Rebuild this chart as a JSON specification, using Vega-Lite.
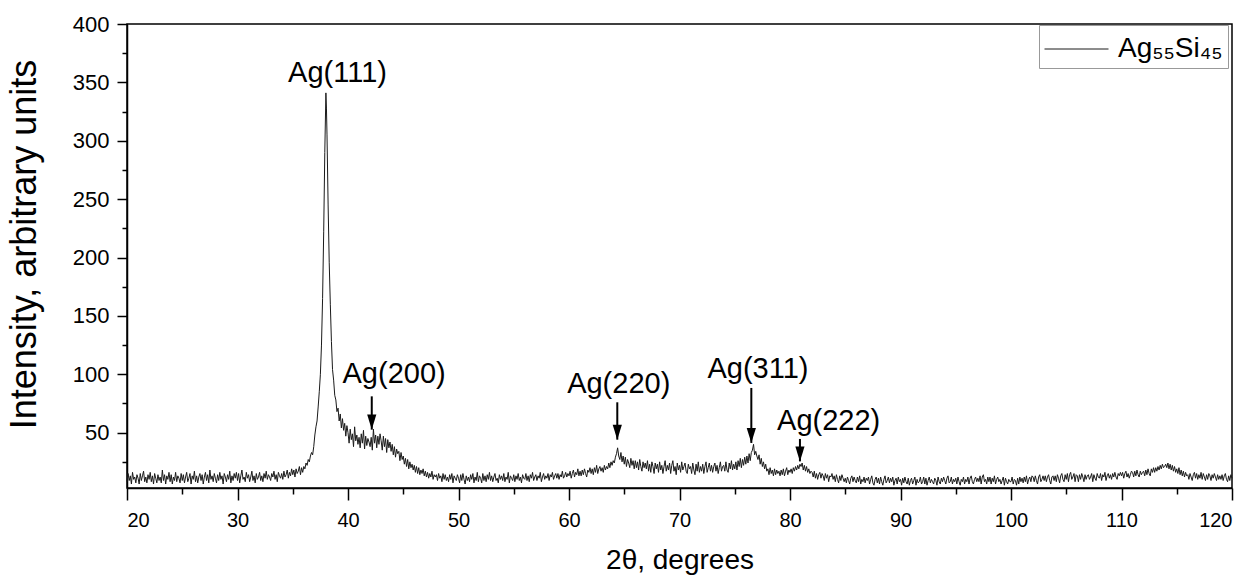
{
  "$schema": "https://vega.github.io/schema/vega-lite/v6.json",
  "autosize": {"type": "none"},
  "padding": {"left": 127, "top": 24, "right": 22, "bottom": 88},
  "width": 1105,
  "height": 464,
  "background": "white",
  "config": {
    "font": "Liberation Sans",
    "view": {"stroke": "black", "strokeWidth": 1.5},
    "axis": {"grid": false, "domainColor": "black", "domainWidth": 1.5, "tickColor": "black", "tickWidth": 1.5, "labelColor": "black", "titleColor": "black", "titleFontWeight": "normal", "labelOverlap": false}
  },
  "datasets": {
    "xrd": [
{"t":20.0,"i":8},{"t":20.1,"i":15},{"t":20.2,"i":9},{"t":20.3,"i":13},{"t":20.4,"i":6},{"t":20.5,"i":16},{"t":20.6,"i":10},{"t":20.7,"i":12},{"t":20.8,"i":7},{"t":20.9,"i":14},
{"t":21.0,"i":11},{"t":21.1,"i":6},{"t":21.2,"i":15},{"t":21.3,"i":9},{"t":21.4,"i":13},{"t":21.5,"i":17},{"t":21.6,"i":8},{"t":21.7,"i":12},{"t":21.8,"i":7},{"t":21.9,"i":14},
{"t":22.0,"i":10},{"t":22.1,"i":16},{"t":22.2,"i":8},{"t":22.3,"i":13},{"t":22.4,"i":6},{"t":22.5,"i":15},{"t":22.6,"i":11},{"t":22.7,"i":7},{"t":22.8,"i":14},{"t":22.9,"i":9},
{"t":23.0,"i":12},{"t":23.1,"i":7},{"t":23.2,"i":18},{"t":23.3,"i":9},{"t":23.4,"i":14},{"t":23.5,"i":6},{"t":23.6,"i":13},{"t":23.7,"i":10},{"t":23.8,"i":16},{"t":23.9,"i":8},
{"t":24.0,"i":14},{"t":24.1,"i":6},{"t":24.2,"i":12},{"t":24.3,"i":9},{"t":24.4,"i":16},{"t":24.5,"i":8},{"t":24.6,"i":13},{"t":24.7,"i":11},{"t":24.8,"i":7},{"t":24.9,"i":15},
{"t":25.0,"i":9},{"t":25.1,"i":14},{"t":25.2,"i":7},{"t":25.3,"i":12},{"t":25.4,"i":16},{"t":25.5,"i":8},{"t":25.6,"i":11},{"t":25.7,"i":15},{"t":25.8,"i":6},{"t":25.9,"i":13},
{"t":26.0,"i":10},{"t":26.1,"i":17},{"t":26.2,"i":8},{"t":26.3,"i":13},{"t":26.4,"i":7},{"t":26.5,"i":12},{"t":26.6,"i":15},{"t":26.7,"i":9},{"t":26.8,"i":14},{"t":26.9,"i":6},
{"t":27.0,"i":12},{"t":27.1,"i":16},{"t":27.2,"i":9},{"t":27.3,"i":14},{"t":27.4,"i":7},{"t":27.5,"i":18},{"t":27.6,"i":10},{"t":27.7,"i":13},{"t":27.8,"i":8},{"t":27.9,"i":15},
{"t":28.0,"i":11},{"t":28.1,"i":7},{"t":28.2,"i":14},{"t":28.3,"i":9},{"t":28.4,"i":16},{"t":28.5,"i":10},{"t":28.6,"i":13},{"t":28.7,"i":6},{"t":28.8,"i":15},{"t":28.9,"i":12},
{"t":29.0,"i":8},{"t":29.1,"i":14},{"t":29.2,"i":10},{"t":29.3,"i":17},{"t":29.4,"i":7},{"t":29.5,"i":13},{"t":29.6,"i":9},{"t":29.7,"i":15},{"t":29.8,"i":11},{"t":29.9,"i":16},
{"t":30.0,"i":9},{"t":30.1,"i":15},{"t":30.2,"i":7},{"t":30.3,"i":13},{"t":30.4,"i":18},{"t":30.5,"i":10},{"t":30.6,"i":12},{"t":30.7,"i":8},{"t":30.8,"i":16},{"t":30.9,"i":11},
{"t":31.0,"i":14},{"t":31.1,"i":8},{"t":31.2,"i":12},{"t":31.3,"i":17},{"t":31.4,"i":9},{"t":31.5,"i":13},{"t":31.6,"i":7},{"t":31.7,"i":15},{"t":31.8,"i":10},{"t":31.9,"i":12},
{"t":32.0,"i":16},{"t":32.1,"i":9},{"t":32.2,"i":13},{"t":32.3,"i":8},{"t":32.4,"i":15},{"t":32.5,"i":11},{"t":32.6,"i":17},{"t":32.7,"i":10},{"t":32.8,"i":14},{"t":32.9,"i":12},
{"t":33.0,"i":9},{"t":33.1,"i":15},{"t":33.2,"i":12},{"t":33.3,"i":17},{"t":33.4,"i":10},{"t":33.5,"i":14},{"t":33.6,"i":8},{"t":33.7,"i":16},{"t":33.8,"i":13},{"t":33.9,"i":11},
{"t":34.0,"i":15},{"t":34.1,"i":10},{"t":34.2,"i":17},{"t":34.3,"i":12},{"t":34.4,"i":14},{"t":34.5,"i":18},{"t":34.6,"i":11},{"t":34.7,"i":16},{"t":34.8,"i":13},{"t":34.9,"i":19},
{"t":35.0,"i":14},{"t":35.1,"i":18},{"t":35.2,"i":12},{"t":35.3,"i":19},{"t":35.4,"i":15},{"t":35.5,"i":17},{"t":35.6,"i":21},{"t":35.7,"i":14},{"t":35.8,"i":20},{"t":35.9,"i":16},
{"t":36.0,"i":21},{"t":36.1,"i":19},{"t":36.2,"i":24},{"t":36.3,"i":22},{"t":36.4,"i":27},{"t":36.5,"i":25},{"t":36.6,"i":30},{"t":36.7,"i":33},{"t":36.8,"i":31},{"t":36.9,"i":38},
{"t":37.0,"i":48},{"t":37.1,"i":55},{"t":37.2,"i":60},{"t":37.3,"i":72},{"t":37.4,"i":85},{"t":37.5,"i":100},{"t":37.6,"i":125},{"t":37.7,"i":165},{"t":37.8,"i":222},{"t":37.9,"i":290},
{"t":38.0,"i":341},{"t":38.05,"i":328},{"t":38.1,"i":305},{"t":38.2,"i":245},{"t":38.3,"i":196},{"t":38.4,"i":160},{"t":38.5,"i":128},{"t":38.6,"i":104},{"t":38.7,"i":95},{"t":38.8,"i":82},{"t":38.9,"i":78},
{"t":39.0,"i":68},{"t":39.1,"i":71},{"t":39.2,"i":60},{"t":39.3,"i":66},{"t":39.4,"i":54},{"t":39.5,"i":62},{"t":39.6,"i":52},{"t":39.7,"i":58},{"t":39.8,"i":47},{"t":39.9,"i":56},
{"t":40.0,"i":50},{"t":40.1,"i":41},{"t":40.2,"i":53},{"t":40.3,"i":44},{"t":40.4,"i":49},{"t":40.5,"i":38},{"t":40.6,"i":55},{"t":40.7,"i":43},{"t":40.8,"i":48},{"t":40.9,"i":40},
{"t":41.0,"i":46},{"t":41.1,"i":37},{"t":41.2,"i":49},{"t":41.3,"i":41},{"t":41.4,"i":52},{"t":41.5,"i":36},{"t":41.6,"i":47},{"t":41.7,"i":39},{"t":41.8,"i":45},{"t":41.9,"i":42},
{"t":42.0,"i":38},{"t":42.1,"i":46},{"t":42.2,"i":35},{"t":42.3,"i":53},{"t":42.4,"i":41},{"t":42.5,"i":48},{"t":42.6,"i":37},{"t":42.7,"i":47},{"t":42.8,"i":40},{"t":42.9,"i":49},
{"t":43.0,"i":43},{"t":43.1,"i":35},{"t":43.2,"i":47},{"t":43.3,"i":38},{"t":43.4,"i":45},{"t":43.5,"i":33},{"t":43.6,"i":44},{"t":43.7,"i":37},{"t":43.8,"i":42},{"t":43.9,"i":34},
{"t":44.0,"i":40},{"t":44.1,"i":31},{"t":44.2,"i":38},{"t":44.3,"i":29},{"t":44.4,"i":36},{"t":44.5,"i":32},{"t":44.6,"i":34},{"t":44.7,"i":26},{"t":44.8,"i":33},{"t":44.9,"i":27},
{"t":45.0,"i":30},{"t":45.1,"i":23},{"t":45.2,"i":28},{"t":45.3,"i":21},{"t":45.4,"i":27},{"t":45.5,"i":19},{"t":45.6,"i":25},{"t":45.7,"i":20},{"t":45.8,"i":23},{"t":45.9,"i":18},
{"t":46.0,"i":22},{"t":46.1,"i":16},{"t":46.2,"i":21},{"t":46.3,"i":15},{"t":46.4,"i":20},{"t":46.5,"i":14},{"t":46.6,"i":18},{"t":46.7,"i":15},{"t":46.8,"i":19},{"t":46.9,"i":13},
{"t":47.0,"i":17},{"t":47.1,"i":12},{"t":47.2,"i":16},{"t":47.3,"i":11},{"t":47.4,"i":15},{"t":47.5,"i":12},{"t":47.6,"i":17},{"t":47.7,"i":10},{"t":47.8,"i":14},{"t":47.9,"i":12},
{"t":48.0,"i":14},{"t":48.1,"i":9},{"t":48.2,"i":15},{"t":48.3,"i":11},{"t":48.4,"i":13},{"t":48.5,"i":8},{"t":48.6,"i":15},{"t":48.7,"i":10},{"t":48.8,"i":14},{"t":48.9,"i":9},
{"t":49.0,"i":12},{"t":49.1,"i":8},{"t":49.2,"i":14},{"t":49.3,"i":10},{"t":49.4,"i":15},{"t":49.5,"i":7},{"t":49.6,"i":13},{"t":49.7,"i":11},{"t":49.8,"i":9},{"t":49.9,"i":14},
{"t":50.0,"i":11},{"t":50.1,"i":7},{"t":50.2,"i":14},{"t":50.3,"i":9},{"t":50.4,"i":15},{"t":50.5,"i":10},{"t":50.6,"i":6},{"t":50.7,"i":13},{"t":50.8,"i":9},{"t":50.9,"i":12},
{"t":51.0,"i":8},{"t":51.1,"i":14},{"t":51.2,"i":10},{"t":51.3,"i":15},{"t":51.4,"i":7},{"t":51.5,"i":12},{"t":51.6,"i":9},{"t":51.7,"i":16},{"t":51.8,"i":8},{"t":51.9,"i":13},
{"t":52.0,"i":11},{"t":52.1,"i":7},{"t":52.2,"i":15},{"t":52.3,"i":9},{"t":52.4,"i":13},{"t":52.5,"i":8},{"t":52.6,"i":14},{"t":52.7,"i":10},{"t":52.8,"i":16},{"t":52.9,"i":9},
{"t":53.0,"i":13},{"t":53.1,"i":8},{"t":53.2,"i":12},{"t":53.3,"i":15},{"t":53.4,"i":9},{"t":53.5,"i":11},{"t":53.6,"i":7},{"t":53.7,"i":14},{"t":53.8,"i":10},{"t":53.9,"i":13},
{"t":54.0,"i":9},{"t":54.1,"i":15},{"t":54.2,"i":8},{"t":54.3,"i":12},{"t":54.4,"i":10},{"t":54.5,"i":16},{"t":54.6,"i":7},{"t":54.7,"i":13},{"t":54.8,"i":11},{"t":54.9,"i":9},
{"t":55.0,"i":14},{"t":55.1,"i":8},{"t":55.2,"i":13},{"t":55.3,"i":10},{"t":55.4,"i":15},{"t":55.5,"i":9},{"t":55.6,"i":12},{"t":55.7,"i":7},{"t":55.8,"i":14},{"t":55.9,"i":11},
{"t":56.0,"i":10},{"t":56.1,"i":15},{"t":56.2,"i":9},{"t":56.3,"i":13},{"t":56.4,"i":8},{"t":56.5,"i":14},{"t":56.6,"i":11},{"t":56.7,"i":16},{"t":56.8,"i":9},{"t":56.9,"i":12},
{"t":57.0,"i":14},{"t":57.1,"i":9},{"t":57.2,"i":13},{"t":57.3,"i":11},{"t":57.4,"i":16},{"t":57.5,"i":8},{"t":57.6,"i":12},{"t":57.7,"i":15},{"t":57.8,"i":10},{"t":57.9,"i":13},
{"t":58.0,"i":11},{"t":58.1,"i":15},{"t":58.2,"i":9},{"t":58.3,"i":14},{"t":58.4,"i":12},{"t":58.5,"i":16},{"t":58.6,"i":10},{"t":58.7,"i":13},{"t":58.8,"i":15},{"t":58.9,"i":11},
{"t":59.0,"i":15},{"t":59.1,"i":10},{"t":59.2,"i":14},{"t":59.3,"i":12},{"t":59.4,"i":17},{"t":59.5,"i":11},{"t":59.6,"i":13},{"t":59.7,"i":16},{"t":59.8,"i":12},{"t":59.9,"i":15},
{"t":60.0,"i":13},{"t":60.1,"i":17},{"t":60.2,"i":11},{"t":60.3,"i":15},{"t":60.4,"i":18},{"t":60.5,"i":12},{"t":60.6,"i":16},{"t":60.7,"i":14},{"t":60.8,"i":19},{"t":60.9,"i":13},
{"t":61.0,"i":17},{"t":61.1,"i":13},{"t":61.2,"i":18},{"t":61.3,"i":14},{"t":61.4,"i":19},{"t":61.5,"i":15},{"t":61.6,"i":12},{"t":61.7,"i":18},{"t":61.8,"i":16},{"t":61.9,"i":20},
{"t":62.0,"i":15},{"t":62.1,"i":19},{"t":62.2,"i":14},{"t":62.3,"i":20},{"t":62.4,"i":16},{"t":62.5,"i":22},{"t":62.6,"i":15},{"t":62.7,"i":19},{"t":62.8,"i":21},{"t":62.9,"i":17},
{"t":63.0,"i":20},{"t":63.1,"i":16},{"t":63.2,"i":22},{"t":63.3,"i":18},{"t":63.4,"i":21},{"t":63.5,"i":19},{"t":63.6,"i":24},{"t":63.7,"i":20},{"t":63.8,"i":25},{"t":63.9,"i":22},
{"t":64.0,"i":26},{"t":64.1,"i":24},{"t":64.2,"i":29},{"t":64.3,"i":32},{"t":64.4,"i":37},{"t":64.5,"i":30},{"t":64.6,"i":27},{"t":64.7,"i":33},{"t":64.8,"i":25},{"t":64.9,"i":30},
{"t":65.0,"i":23},{"t":65.1,"i":29},{"t":65.2,"i":21},{"t":65.3,"i":27},{"t":65.4,"i":24},{"t":65.5,"i":20},{"t":65.6,"i":28},{"t":65.7,"i":22},{"t":65.8,"i":26},{"t":65.9,"i":19},
{"t":66.0,"i":26},{"t":66.1,"i":20},{"t":66.2,"i":25},{"t":66.3,"i":18},{"t":66.4,"i":27},{"t":66.5,"i":21},{"t":66.6,"i":17},{"t":66.7,"i":25},{"t":66.8,"i":20},{"t":66.9,"i":24},
{"t":67.0,"i":19},{"t":67.1,"i":26},{"t":67.2,"i":17},{"t":67.3,"i":23},{"t":67.4,"i":16},{"t":67.5,"i":25},{"t":67.6,"i":21},{"t":67.7,"i":15},{"t":67.8,"i":24},{"t":67.9,"i":19},
{"t":68.0,"i":23},{"t":68.1,"i":16},{"t":68.2,"i":25},{"t":68.3,"i":18},{"t":68.4,"i":22},{"t":68.5,"i":15},{"t":68.6,"i":21},{"t":68.7,"i":26},{"t":68.8,"i":17},{"t":68.9,"i":22},
{"t":69.0,"i":18},{"t":69.1,"i":24},{"t":69.2,"i":15},{"t":69.3,"i":22},{"t":69.4,"i":26},{"t":69.5,"i":17},{"t":69.6,"i":21},{"t":69.7,"i":14},{"t":69.8,"i":24},{"t":69.9,"i":18},
{"t":70.0,"i":22},{"t":70.1,"i":16},{"t":70.2,"i":25},{"t":70.3,"i":18},{"t":70.4,"i":21},{"t":70.5,"i":24},{"t":70.6,"i":17},{"t":70.7,"i":15},{"t":70.8,"i":23},{"t":70.9,"i":19},
{"t":71.0,"i":21},{"t":71.1,"i":15},{"t":71.2,"i":24},{"t":71.3,"i":18},{"t":71.4,"i":14},{"t":71.5,"i":23},{"t":71.6,"i":17},{"t":71.7,"i":25},{"t":71.8,"i":16},{"t":71.9,"i":21},
{"t":72.0,"i":17},{"t":72.1,"i":23},{"t":72.2,"i":15},{"t":72.3,"i":21},{"t":72.4,"i":25},{"t":72.5,"i":16},{"t":72.6,"i":20},{"t":72.7,"i":24},{"t":72.8,"i":17},{"t":72.9,"i":22},
{"t":73.0,"i":16},{"t":73.1,"i":21},{"t":73.2,"i":24},{"t":73.3,"i":17},{"t":73.4,"i":22},{"t":73.5,"i":15},{"t":73.6,"i":20},{"t":73.7,"i":25},{"t":73.8,"i":17},{"t":73.9,"i":21},
{"t":74.0,"i":22},{"t":74.1,"i":17},{"t":74.2,"i":25},{"t":74.3,"i":18},{"t":74.4,"i":16},{"t":74.5,"i":24},{"t":74.6,"i":19},{"t":74.7,"i":26},{"t":74.8,"i":18},{"t":74.9,"i":23},
{"t":75.0,"i":19},{"t":75.1,"i":25},{"t":75.2,"i":18},{"t":75.3,"i":26},{"t":75.4,"i":21},{"t":75.5,"i":28},{"t":75.6,"i":20},{"t":75.7,"i":27},{"t":75.8,"i":22},{"t":75.9,"i":29},
{"t":76.0,"i":23},{"t":76.1,"i":30},{"t":76.2,"i":24},{"t":76.3,"i":32},{"t":76.4,"i":26},{"t":76.5,"i":33},{"t":76.6,"i":35},{"t":76.7,"i":40},{"t":76.8,"i":31},{"t":76.9,"i":34},
{"t":77.0,"i":30},{"t":77.1,"i":27},{"t":77.2,"i":31},{"t":77.3,"i":23},{"t":77.4,"i":28},{"t":77.5,"i":21},{"t":77.6,"i":25},{"t":77.7,"i":19},{"t":77.8,"i":23},{"t":77.9,"i":17},
{"t":78.0,"i":19},{"t":78.1,"i":14},{"t":78.2,"i":20},{"t":78.3,"i":15},{"t":78.4,"i":18},{"t":78.5,"i":13},{"t":78.6,"i":19},{"t":78.7,"i":14},{"t":78.8,"i":18},{"t":78.9,"i":15},
{"t":79.0,"i":17},{"t":79.1,"i":13},{"t":79.2,"i":18},{"t":79.3,"i":14},{"t":79.4,"i":19},{"t":79.5,"i":13},{"t":79.6,"i":17},{"t":79.7,"i":20},{"t":79.8,"i":14},{"t":79.9,"i":18},
{"t":80.0,"i":16},{"t":80.1,"i":19},{"t":80.2,"i":15},{"t":80.3,"i":20},{"t":80.4,"i":17},{"t":80.5,"i":21},{"t":80.6,"i":18},{"t":80.7,"i":22},{"t":80.8,"i":19},{"t":80.9,"i":23},
{"t":81.0,"i":21},{"t":81.1,"i":24},{"t":81.2,"i":18},{"t":81.3,"i":22},{"t":81.4,"i":17},{"t":81.5,"i":21},{"t":81.6,"i":16},{"t":81.7,"i":19},{"t":81.8,"i":15},{"t":81.9,"i":17},
{"t":82.0,"i":16},{"t":82.1,"i":12},{"t":82.2,"i":17},{"t":82.3,"i":11},{"t":82.4,"i":15},{"t":82.5,"i":10},{"t":82.6,"i":14},{"t":82.7,"i":16},{"t":82.8,"i":11},{"t":82.9,"i":15},
{"t":83.0,"i":13},{"t":83.1,"i":9},{"t":83.2,"i":15},{"t":83.3,"i":11},{"t":83.4,"i":14},{"t":83.5,"i":8},{"t":83.6,"i":13},{"t":83.7,"i":12},{"t":83.8,"i":15},{"t":83.9,"i":10},
{"t":84.0,"i":13},{"t":84.1,"i":8},{"t":84.2,"i":14},{"t":84.3,"i":10},{"t":84.4,"i":7},{"t":84.5,"i":13},{"t":84.6,"i":9},{"t":84.7,"i":14},{"t":84.8,"i":11},{"t":84.9,"i":8},
{"t":85.0,"i":11},{"t":85.1,"i":7},{"t":85.2,"i":12},{"t":85.3,"i":9},{"t":85.4,"i":6},{"t":85.5,"i":11},{"t":85.6,"i":13},{"t":85.7,"i":8},{"t":85.8,"i":12},{"t":85.9,"i":9},
{"t":86.0,"i":7},{"t":86.1,"i":12},{"t":86.2,"i":8},{"t":86.3,"i":13},{"t":86.4,"i":6},{"t":86.5,"i":10},{"t":86.6,"i":8},{"t":86.7,"i":12},{"t":86.8,"i":7},{"t":86.9,"i":11},
{"t":87.0,"i":9},{"t":87.1,"i":12},{"t":87.2,"i":6},{"t":87.3,"i":10},{"t":87.4,"i":13},{"t":87.5,"i":7},{"t":87.6,"i":5},{"t":87.7,"i":10},{"t":87.8,"i":12},{"t":87.9,"i":7},
{"t":88.0,"i":11},{"t":88.1,"i":6},{"t":88.2,"i":12},{"t":88.3,"i":8},{"t":88.4,"i":5},{"t":88.5,"i":10},{"t":88.6,"i":13},{"t":88.7,"i":7},{"t":88.8,"i":9},{"t":88.9,"i":12},
{"t":89.0,"i":7},{"t":89.1,"i":11},{"t":89.2,"i":8},{"t":89.3,"i":12},{"t":89.4,"i":5},{"t":89.5,"i":9},{"t":89.6,"i":11},{"t":89.7,"i":6},{"t":89.8,"i":12},{"t":89.9,"i":8},
{"t":90.0,"i":10},{"t":90.1,"i":5},{"t":90.2,"i":11},{"t":90.3,"i":7},{"t":90.4,"i":12},{"t":90.5,"i":8},{"t":90.6,"i":6},{"t":90.7,"i":11},{"t":90.8,"i":5},{"t":90.9,"i":9},
{"t":91.0,"i":11},{"t":91.1,"i":6},{"t":91.2,"i":9},{"t":91.3,"i":12},{"t":91.4,"i":5},{"t":91.5,"i":10},{"t":91.6,"i":7},{"t":91.7,"i":8},{"t":91.8,"i":12},{"t":91.9,"i":6},
{"t":92.0,"i":8},{"t":92.1,"i":12},{"t":92.2,"i":6},{"t":92.3,"i":11},{"t":92.4,"i":5},{"t":92.5,"i":9},{"t":92.6,"i":12},{"t":92.7,"i":7},{"t":92.8,"i":10},{"t":92.9,"i":8},
{"t":93.0,"i":6},{"t":93.1,"i":11},{"t":93.2,"i":9},{"t":93.3,"i":5},{"t":93.4,"i":12},{"t":93.5,"i":8},{"t":93.6,"i":6},{"t":93.7,"i":11},{"t":93.8,"i":8},{"t":93.9,"i":12},
{"t":94.0,"i":9},{"t":94.1,"i":6},{"t":94.2,"i":11},{"t":94.3,"i":13},{"t":94.4,"i":7},{"t":94.5,"i":8},{"t":94.6,"i":12},{"t":94.7,"i":6},{"t":94.8,"i":10},{"t":94.9,"i":8},
{"t":95.0,"i":11},{"t":95.1,"i":6},{"t":95.2,"i":12},{"t":95.3,"i":8},{"t":95.4,"i":5},{"t":95.5,"i":10},{"t":95.6,"i":8},{"t":95.7,"i":12},{"t":95.8,"i":6},{"t":95.9,"i":10},
{"t":96.0,"i":8},{"t":96.1,"i":12},{"t":96.2,"i":6},{"t":96.3,"i":11},{"t":96.4,"i":13},{"t":96.5,"i":8},{"t":96.6,"i":6},{"t":96.7,"i":10},{"t":96.8,"i":12},{"t":96.9,"i":8},
{"t":97.0,"i":11},{"t":97.1,"i":8},{"t":97.2,"i":13},{"t":97.3,"i":6},{"t":97.4,"i":12},{"t":97.5,"i":14},{"t":97.6,"i":8},{"t":97.7,"i":10},{"t":97.8,"i":6},{"t":97.9,"i":12},
{"t":98.0,"i":8},{"t":98.1,"i":12},{"t":98.2,"i":6},{"t":98.3,"i":11},{"t":98.4,"i":8},{"t":98.5,"i":13},{"t":98.6,"i":6},{"t":98.7,"i":10},{"t":98.8,"i":12},{"t":98.9,"i":8},
{"t":99.0,"i":10},{"t":99.1,"i":6},{"t":99.2,"i":9},{"t":99.3,"i":12},{"t":99.4,"i":5},{"t":99.5,"i":11},{"t":99.6,"i":8},{"t":99.7,"i":6},{"t":99.8,"i":10},{"t":99.9,"i":8},
{"t":100.0,"i":8},{"t":100.1,"i":12},{"t":100.2,"i":6},{"t":100.3,"i":10},{"t":100.4,"i":9},{"t":100.5,"i":5},{"t":100.6,"i":11},{"t":100.7,"i":6},{"t":100.8,"i":12},{"t":100.9,"i":8},
{"t":101.0,"i":11},{"t":101.1,"i":7},{"t":101.2,"i":12},{"t":101.3,"i":8},{"t":101.4,"i":13},{"t":101.5,"i":6},{"t":101.6,"i":10},{"t":101.7,"i":12},{"t":101.8,"i":8},{"t":101.9,"i":13},
{"t":102.0,"i":12},{"t":102.1,"i":8},{"t":102.2,"i":13},{"t":102.3,"i":9},{"t":102.4,"i":6},{"t":102.5,"i":12},{"t":102.6,"i":14},{"t":102.7,"i":8},{"t":102.8,"i":10},{"t":102.9,"i":13},
{"t":103.0,"i":9},{"t":103.1,"i":13},{"t":103.2,"i":8},{"t":103.3,"i":12},{"t":103.4,"i":14},{"t":103.5,"i":9},{"t":103.6,"i":6},{"t":103.7,"i":12},{"t":103.8,"i":13},{"t":103.9,"i":9},
{"t":104.0,"i":13},{"t":104.1,"i":8},{"t":104.2,"i":14},{"t":104.3,"i":11},{"t":104.4,"i":7},{"t":104.5,"i":13},{"t":104.6,"i":15},{"t":104.7,"i":10},{"t":104.8,"i":8},{"t":104.9,"i":14},
{"t":105.0,"i":10},{"t":105.1,"i":15},{"t":105.2,"i":8},{"t":105.3,"i":14},{"t":105.4,"i":16},{"t":105.5,"i":10},{"t":105.6,"i":12},{"t":105.7,"i":15},{"t":105.8,"i":8},{"t":105.9,"i":14},
{"t":106.0,"i":13},{"t":106.1,"i":8},{"t":106.2,"i":14},{"t":106.3,"i":10},{"t":106.4,"i":15},{"t":106.5,"i":12},{"t":106.6,"i":8},{"t":106.7,"i":14},{"t":106.8,"i":10},{"t":106.9,"i":13},
{"t":107.0,"i":14},{"t":107.1,"i":10},{"t":107.2,"i":12},{"t":107.3,"i":15},{"t":107.4,"i":8},{"t":107.5,"i":14},{"t":107.6,"i":11},{"t":107.7,"i":9},{"t":107.8,"i":15},{"t":107.9,"i":12},
{"t":108.0,"i":11},{"t":108.1,"i":15},{"t":108.2,"i":9},{"t":108.3,"i":14},{"t":108.4,"i":12},{"t":108.5,"i":16},{"t":108.6,"i":9},{"t":108.7,"i":13},{"t":108.8,"i":15},{"t":108.9,"i":11},
{"t":109.0,"i":14},{"t":109.1,"i":10},{"t":109.2,"i":15},{"t":109.3,"i":12},{"t":109.4,"i":16},{"t":109.5,"i":12},{"t":109.6,"i":10},{"t":109.7,"i":15},{"t":109.8,"i":13},{"t":109.9,"i":16},
{"t":110.0,"i":13},{"t":110.1,"i":16},{"t":110.2,"i":11},{"t":110.3,"i":15},{"t":110.4,"i":17},{"t":110.5,"i":12},{"t":110.6,"i":15},{"t":110.7,"i":11},{"t":110.8,"i":14},{"t":110.9,"i":17},
{"t":111.0,"i":16},{"t":111.1,"i":12},{"t":111.2,"i":17},{"t":111.3,"i":13},{"t":111.4,"i":18},{"t":111.5,"i":14},{"t":111.6,"i":12},{"t":111.7,"i":17},{"t":111.8,"i":14},{"t":111.9,"i":16},
{"t":112.0,"i":17},{"t":112.1,"i":13},{"t":112.2,"i":18},{"t":112.3,"i":14},{"t":112.4,"i":19},{"t":112.5,"i":15},{"t":112.6,"i":13},{"t":112.7,"i":19},{"t":112.8,"i":16},{"t":112.9,"i":20},
{"t":113.0,"i":16},{"t":113.1,"i":20},{"t":113.2,"i":17},{"t":113.3,"i":21},{"t":113.4,"i":18},{"t":113.5,"i":22},{"t":113.6,"i":19},{"t":113.7,"i":23},{"t":113.8,"i":20},{"t":113.9,"i":21},
{"t":114.0,"i":23},{"t":114.1,"i":20},{"t":114.2,"i":24},{"t":114.3,"i":19},{"t":114.4,"i":23},{"t":114.5,"i":18},{"t":114.6,"i":22},{"t":114.7,"i":17},{"t":114.8,"i":21},{"t":114.9,"i":16},
{"t":115.0,"i":19},{"t":115.1,"i":15},{"t":115.2,"i":20},{"t":115.3,"i":14},{"t":115.4,"i":18},{"t":115.5,"i":13},{"t":115.6,"i":17},{"t":115.7,"i":12},{"t":115.8,"i":16},{"t":115.9,"i":13},
{"t":116.0,"i":14},{"t":116.1,"i":10},{"t":116.2,"i":15},{"t":116.3,"i":12},{"t":116.4,"i":9},{"t":116.5,"i":14},{"t":116.6,"i":16},{"t":116.7,"i":11},{"t":116.8,"i":15},{"t":116.9,"i":10},
{"t":117.0,"i":14},{"t":117.1,"i":11},{"t":117.2,"i":16},{"t":117.3,"i":10},{"t":117.4,"i":15},{"t":117.5,"i":12},{"t":117.6,"i":9},{"t":117.7,"i":14},{"t":117.8,"i":10},{"t":117.9,"i":15},
{"t":118.0,"i":13},{"t":118.1,"i":9},{"t":118.2,"i":14},{"t":118.3,"i":11},{"t":118.4,"i":15},{"t":118.5,"i":12},{"t":118.6,"i":9},{"t":118.7,"i":14},{"t":118.8,"i":10},{"t":118.9,"i":13},
{"t":119.0,"i":10},{"t":119.1,"i":14},{"t":119.2,"i":9},{"t":119.3,"i":13},{"t":119.4,"i":15},{"t":119.5,"i":10},{"t":119.6,"i":8},{"t":119.7,"i":13},{"t":119.8,"i":9},{"t":119.9,"i":14},
{"t":120.0,"i":11}
    ],
    "labels": [
      {"t": 39.05, "i": 350.6, "label": "Ag(111)"},
      {"t": 44.17, "i": 92.6, "label": "Ag(200)"},
      {"t": 64.5, "i": 84.3, "label": "Ag(220)"},
      {"t": 77.1, "i": 96.9, "label": "Ag(311)"},
      {"t": 83.5, "i": 52.6, "label": "Ag(222)"}
    ],
    "arrows": [
      {"t": 42.15, "i": 81.1, "tip": 52.6},
      {"t": 64.37, "i": 76.0, "tip": 44.0},
      {"t": 76.5, "i": 88.3, "tip": 41.2},
      {"t": 80.9, "i": 44.6, "tip": 25.4}
    ],
    "heads": [
      {"t": 42.15, "i": 52.6},
      {"t": 64.37, "i": 44.0},
      {"t": 76.5, "i": 41.2},
      {"t": 80.9, "i": 25.4}
    ]
  },
  "encoding": {
    "x": {
      "field": "t", "type": "quantitative",
      "scale": {"domain": [20, 120], "nice": false, "zero": false},
      "axis": {
        "title": "2θ, degrees", "titleFontSize": 28, "titlePadding": 16,
        "values": [20,25,30,35,40,45,50,55,60,65,70,75,80,85,90,95,100,105,110,115,120],
        "labelExpr": "datum.value % 10 === 0 ? datum.label : ''",
        "labelFontSize": 20, "labelPadding": 10,
        "tickSize": {"condition": {"test": "datum.value % 10 === 0", "value": 12}, "value": 6}
      }
    },
    "y": {
      "field": "i", "type": "quantitative",
      "scale": {"domain": [2.6, 400], "nice": false, "zero": false},
      "axis": {
        "title": "Intensity, arbitrary units", "titleFontSize": 36, "titlePadding": 29, "titleY": 220,
        "values": [25,50,75,100,125,150,175,200,225,250,275,300,325,350,375,400],
        "labelExpr": "datum.value % 50 === 0 ? datum.label : ''",
        "labelFontSize": 22, "labelPadding": 8,
        "tickSize": {"condition": {"test": "datum.value % 50 === 0", "value": 10}, "value": 5}
      }
    }
  },
  "layer": [
    {
      "data": {"name": "xrd"},
      "mark": {"type": "line", "strokeWidth": 1, "interpolate": "linear"},
      "encoding": {
        "color": {
          "datum": "Ag₅₅Si₄₅", "type": "nominal",
          "scale": {"range": ["#1a1a1a"]},
          "legend": {
            "title": null, "orient": "none", "legendX": 912, "legendY": 1,
            "symbolType": "M -1 0 L 2.46 0", "symbolSize": 1369, "symbolStrokeWidth": 1,
            "labelFontSize": 28, "labelOffset": 36, "labelColor": "black",
            "strokeColor": "#999999", "padding": 5,
            "encode": {"symbols": {"update": {"stroke": {"value": "#808080"}}}}
          }
        }
      }
    },
    {
      "data": {"name": "arrows"},
      "mark": {"type": "rule", "strokeWidth": 2, "color": "black"},
      "encoding": {
        "y2": {"field": "tip"}
      }
    },
    {
      "data": {"name": "heads"},
      "mark": {"type": "point", "filled": true, "color": "black", "opacity": 1, "size": 64, "shape": "M -1.15 -3.75 L 1.15 -3.75 L 0 0 Z", "strokeWidth": 0},
      "encoding": {}
    },
    {
      "data": {"name": "labels"},
      "mark": {"type": "text", "fontSize": 29, "align": "center", "baseline": "alphabetic", "color": "black"},
      "encoding": {
        "text": {"field": "label"}
      }
    }
  ]
}
